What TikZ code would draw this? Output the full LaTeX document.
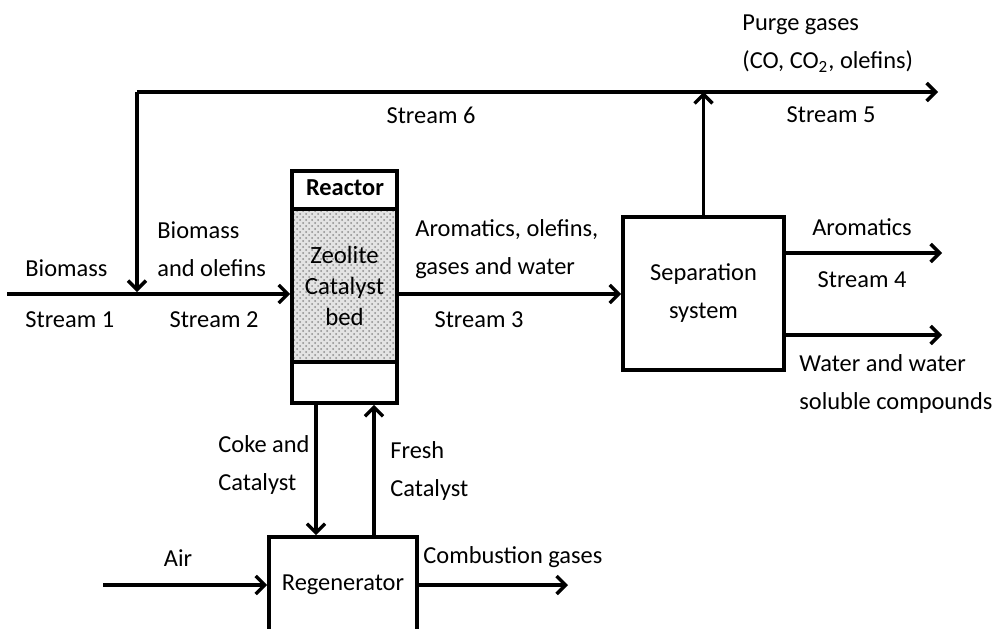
\documentclass[tikz,border=0pt]{standalone}
\usepackage{fontspec}
\setmainfont{Carlito}
\usetikzlibrary{arrows.meta}
\usetikzlibrary{patterns}
\usetikzlibrary{positioning}

\tikzset{
  unit/.style={draw, line width=1.9pt, inner sep=0pt},
  flow/.style={line width=1.7pt, -{Straight Barb[length=4.5pt,width=9pt,line width=1.7pt]}},
  lbl/.style={inner sep=0pt, align=left},
}

\begin{document}
\begin{tikzpicture}[x=0.5pt, y=-0.5pt, font=\fontsize{12.2}{19}\selectfont]
  \useasboundingbox (0,0) rectangle (995,628);
  \clip (0,0) rectangle (995,628);

  % units
  \node [unit, minimum width=52.5pt, minimum height=116pt] (reactor) at (344.5,287) {};
  \node [unit, preaction={fill=gray!22}, pattern=crosshatch dots, pattern color=gray!90,
         minimum width=52.5pt, minimum height=76.5pt, align=center,
         font=\fontsize{12.4}{15.5}\selectfont]
         (bed) at (344.5,285.5) {Zeolite\\Catalyst\\bed};
  \node [inner sep=0pt, font=\fontsize{12.2}{19}\bfseries] (reactorlbl) at (345,188) {Reactor};
  \node [unit, minimum width=80.5pt, minimum height=76.5pt, align=center] (sep) at (703.5,293.5) {Separation\\system};
  \node [unit, minimum width=74pt, minimum height=48pt] (regen) at (343,585) {Regenerator};

  \coordinate (feed) at (7,294);
  \coordinate (recycle) at (137,92);
  \coordinate (purge) at (938,92);
  \coordinate (arom) at (942,253);
  \coordinate (water) at (942,335);
  \coordinate (air) at (103,585);
  \coordinate (flue) at (568,585);

  % streams
  \draw [flow] (feed) -- (feed -| reactor.west);
  \draw [flow] (feed -| reactor.east) -- (feed -| sep.west);
  \draw [flow] (recycle) -- (purge);
  \draw [flow, shorten >=1pt] (recycle) -- (recycle |- feed);
  \draw [flow] (sep.north) -- (sep.north |- purge);
  \draw [flow] (sep.east |- arom) -- (arom);
  \draw [flow] (sep.east |- water) -- (water);
  \draw [flow] ([xshift=-14.25pt]reactor.south) -- ([xshift=-14.25pt]reactor.south |- regen.north);
  \draw [flow] ([xshift=14.75pt]reactor.south |- regen.north) -- ([xshift=14.75pt]reactor.south);
  \draw [flow] (air) -- (regen.west);
  \draw [flow] (regen.east) -- (flue);

  % labels
  \node [lbl, anchor=west] (purgelbl) at (742,43.5) {Purge gases\\(CO, CO\textsubscript{2}, olefins)};
  \node [lbl] (s6) at (431,115) {Stream 6};
  \node [lbl] (s5) at (831,115) {Stream 5};
  \node [lbl, anchor=west] (biolbl) at (25,268) {Biomass};
  \node [lbl, anchor=west] (s1) at (25,320) {Stream 1};
  \node [lbl, anchor=west] (mixlbl) at (157,249) {Biomass\\and olefins};
  \node [lbl] (s2) at (214,320) {Stream 2};
  \node [lbl, anchor=west] (prodlbl) at (415,249) {Aromatics, olefins,\\gases and water};
  \node [lbl] (s3) at (479,320) {Stream 3};
  \node [lbl] (aromlbl) at (862,227) {Aromatics};
  \node [lbl] (s4) at (862,280) {Stream 4};
  \node [lbl, anchor=west] (watlbl) at (799,384) {Water and water\\soluble compounds};
  \node [lbl, anchor=west] (cokelbl) at (218,465) {Coke and\\Catalyst};
  \node [lbl, anchor=west] (freshlbl) at (390,471) {Fresh\\Catalyst};
  \node [lbl] (airlbl) at (178,558) {Air};
  \node [lbl, anchor=west] (fluelbl) at (423,557) {Combustion gases};
\end{tikzpicture}
\end{document}
